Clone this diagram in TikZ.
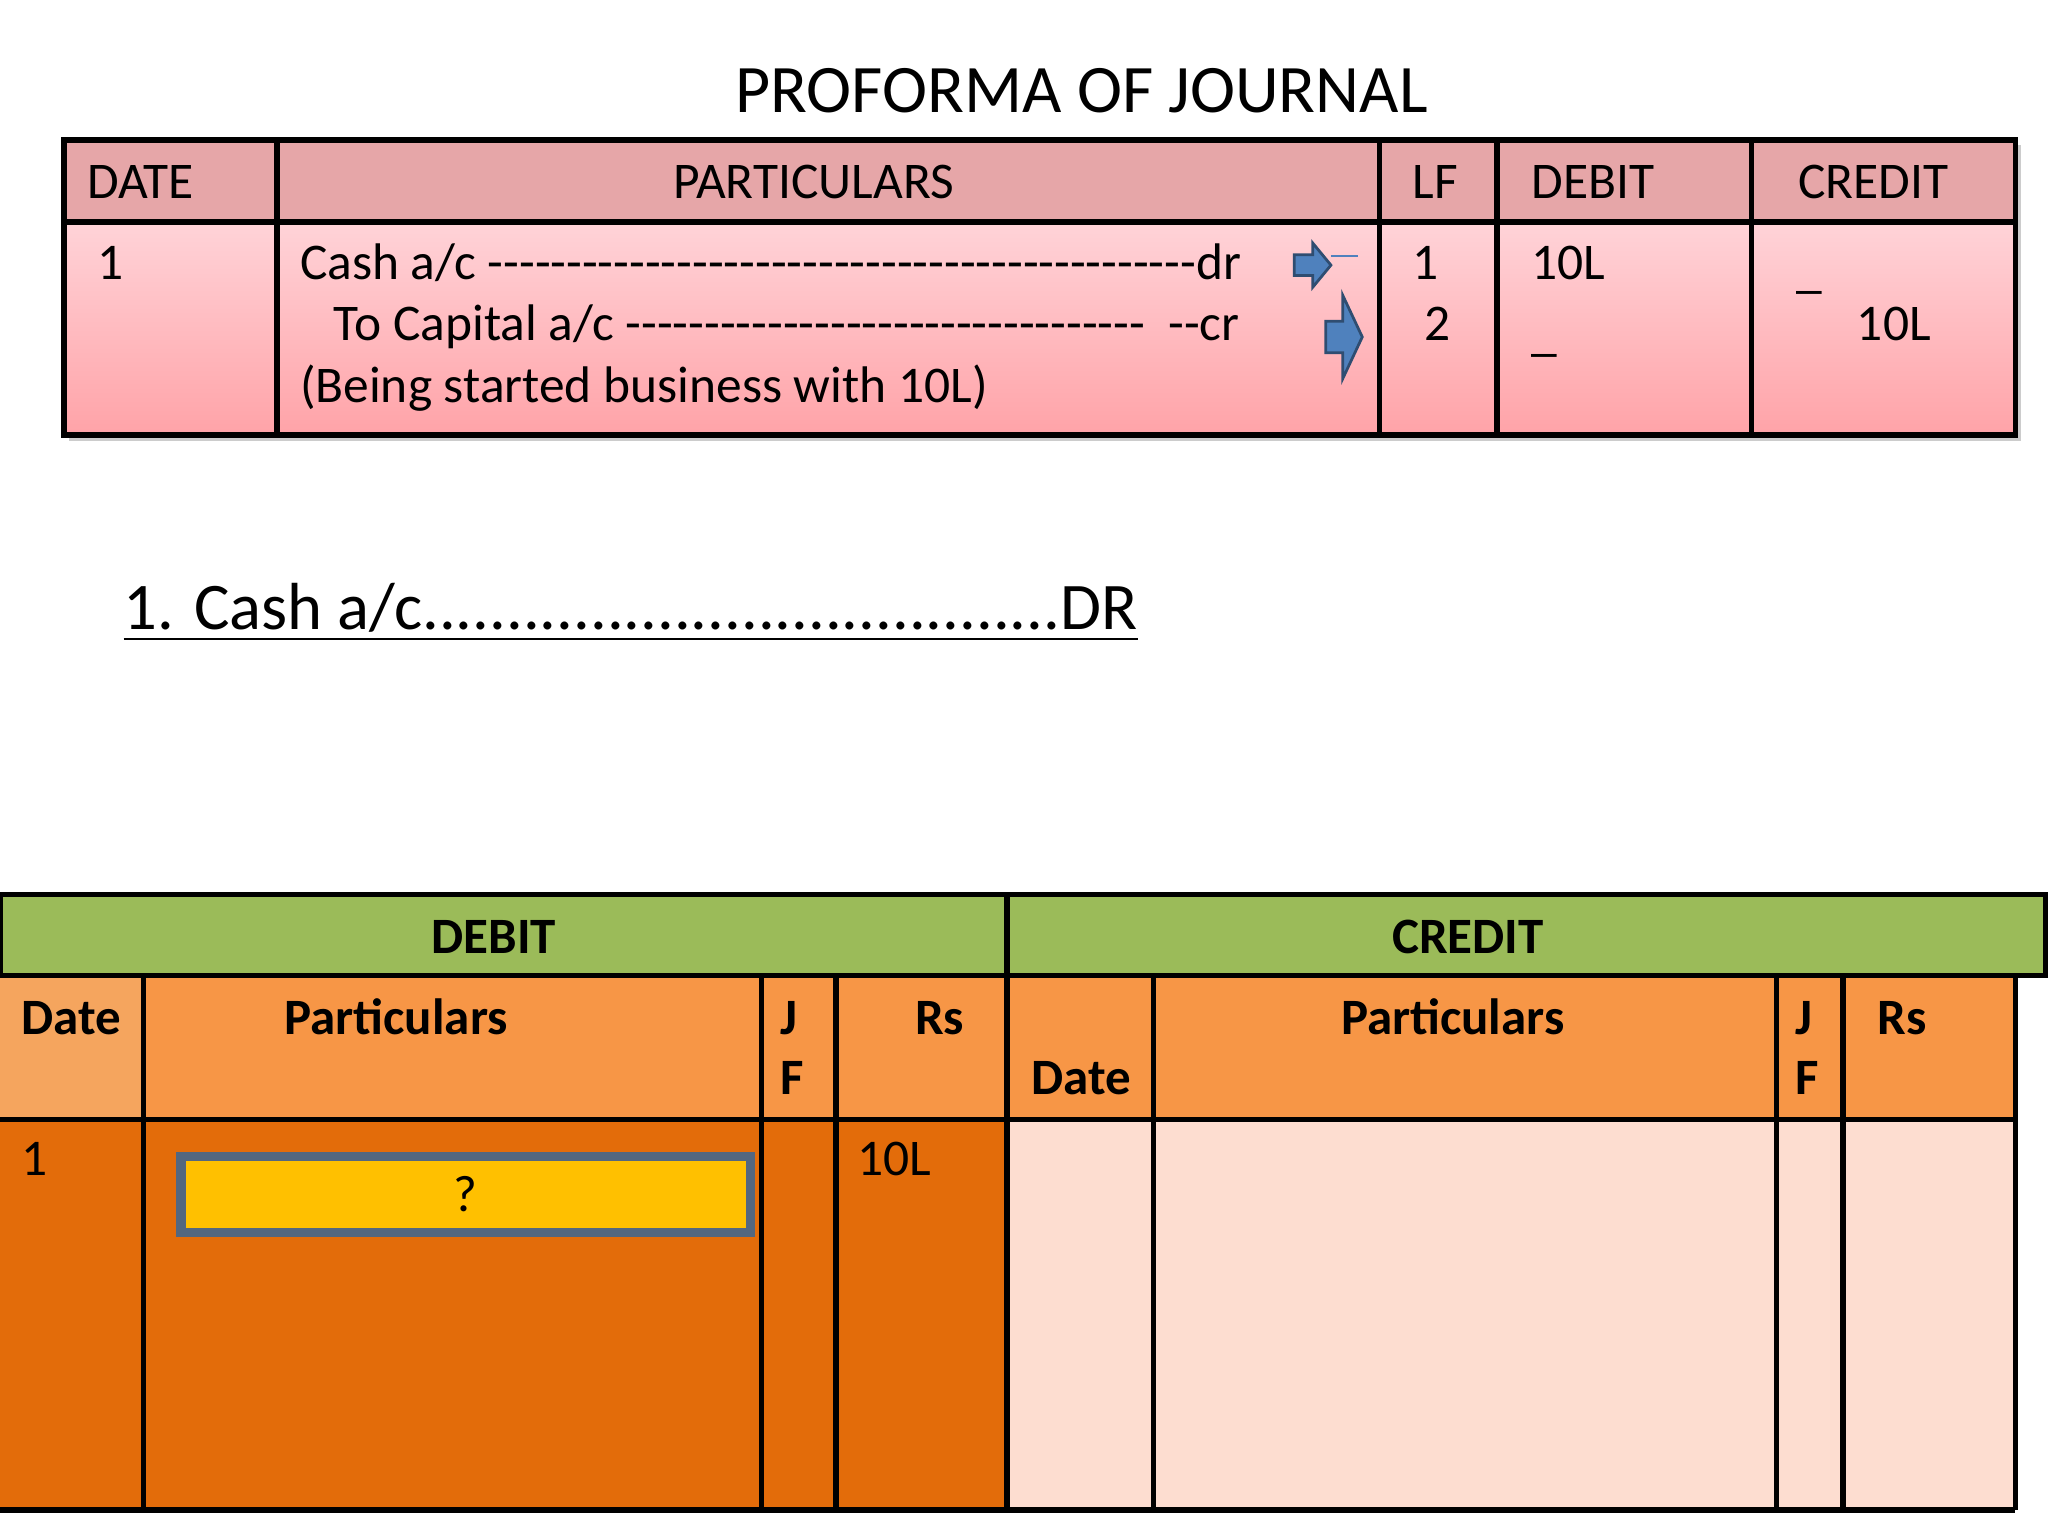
\documentclass[tikz,border=0pt]{standalone}
\usepackage{fontspec}
\setmainfont{Carlito}[Ligatures=TeXOff]
\definecolor{hdr}{HTML}{E6A6A8}
\definecolor{btop}{HTML}{FFD3D8}
\definecolor{bbot}{HTML}{FFA3A8}
\definecolor{grn}{HTML}{9BBB59}
\definecolor{org}{HTML}{F79646}
\definecolor{orgl}{HTML}{F5A55E}
\definecolor{dorg}{HTML}{E36C0A}
\definecolor{lorg}{HTML}{FDDDD0}
\definecolor{ylw}{HTML}{FFC000}
\definecolor{blu}{HTML}{4F81BD}
\tikzset{cell/.style={draw=black,line width=1.2pt},
 tt/.style={font=\fontsize{11.2}{14}\selectfont,inner sep=0pt,anchor=base west},
 bt/.style={font=\fontsize{11.1}{14}\selectfont\bfseries,inner sep=0pt,anchor=base west},
 barrow/.style={fill=blu,draw=blu!60!black,line width=0.6pt,line join=miter}}
\begin{document}
\begin{tikzpicture}[x=0.01cm,y=-0.01cm]
\useasboundingbox (0,0) rectangle (1568,1176);
\node[font=\fontsize{14.8}{18}\selectfont,inner sep=0pt,anchor=base] (title) at (828,86) {PROFORMA OF JOURNAL};
% top table
\fill[gray!40] (53,111) rectangle (1547,338);
\shade[top color=btop,bottom color=bbot] (49,170) rectangle (1543,333);
\fill[hdr] (49,107) rectangle (1543,170);
\draw[cell] (49,107) rectangle (1543,333);
\draw[cell] (49,170) -- (1543,170);
\foreach \x in {212,1056,1146,1341} \draw[cell] (\x,107) -- (\x,333);
\node[tt] (h1) at (66,152) {DATE};
\node[tt,anchor=base] (h2) at (623,152) {PARTICULARS};
\node[tt] (h3) at (1081,152) {LF};
\node[tt] (h4) at (1172,152) {DEBIT};
\node[tt] (h5) at (1376,152) {CREDIT};
\node[tt] (d1) at (74,214) {1};
\node[tt] (p1) at (229,214) {Cash a/c ---------------------------------------------dr};
\node[tt] (p2) at (255,261) {To Capital a/c --------------------------------- \ --cr};
\node[tt] (p3) at (229,308) {(Being started business with 10L)};
\node[tt] (l1) at (1081,214) {1};
\node[tt] (l2) at (1090,261) {2};
\node[tt] (db1) at (1172,214) {10L};
\node[tt] (db2) at (1172,268) {\_};
\node[tt] (c1) at (1375,220) {\_};
\node[tt] (c2) at (1421,261) {10L};
\filldraw[barrow] (991,195) -- (1005,195) -- (1005,186) -- (1019,203) -- (1005,220) -- (1005,211) -- (991,211) -- cycle;
\draw[blu,line width=0.6pt] (1019,196) -- (1040,196);
\filldraw[barrow] (1015,246) -- (1028,246) -- (1028,226) -- (1043,258) -- (1028,290) -- (1028,270) -- (1015,270) -- cycle;
% heading
\node[font=\fontsize{14.5}{18}\selectfont,inner sep=0pt,anchor=base west] (line) at (94,482) {\underline{1. Cash a/c......................................DR}};
% bottom table
\fill[grn] (0,685) rectangle (1566,747);
\fill[org] (0,747) rectangle (1543,857);
\fill[orgl] (0,747) rectangle (110,857);
\fill[dorg] (0,857) rectangle (771,1156);
\fill[lorg] (771,857) rectangle (1543,1156);
\draw[cell] (0,685) rectangle (1566,747);
\draw[cell] (771,685) -- (771,1156);
\draw[cell] (0,857) -- (1543,857);
\draw[cell] (1543,747) -- (1543,1156);
\draw[cell] (0,1156) -- (1543,1156);
\foreach \x in {110,583,640,883,1360,1411} \draw[cell] (\x,747) -- (\x,1156);
\node[bt,anchor=base] (dh) at (378,730) {DEBIT};
\node[bt,anchor=base] (ch) at (1124,730) {CREDIT};
\node[bt] (s1) at (16,792) {Date};
\node[bt] (s2) at (217,792) {Particulars};
\node[bt] (s3) at (597,792) {J};
\node[bt] (s4) at (597,838) {F};
\node[bt] (s5) at (700,792) {Rs};
\node[bt] (s6) at (789,838) {Date};
\node[bt] (s7) at (1026,792) {Particulars};
\node[bt] (s8) at (1374,792) {J};
\node[bt] (s9) at (1374,838) {F};
\node[bt] (s10) at (1437,792) {Rs};
\node[tt] (r1) at (16,900) {1};
\node[tt] (r2) at (656,900) {10L};
\node[draw=blu!50!black!80,line width=2pt,fill=ylw,minimum width=4.36cm,minimum height=0.58cm,inner sep=0pt,anchor=north west,font=\fontsize{11.2}{14}\selectfont] (q) at (135,882) {?};
\end{tikzpicture}
\end{document}
